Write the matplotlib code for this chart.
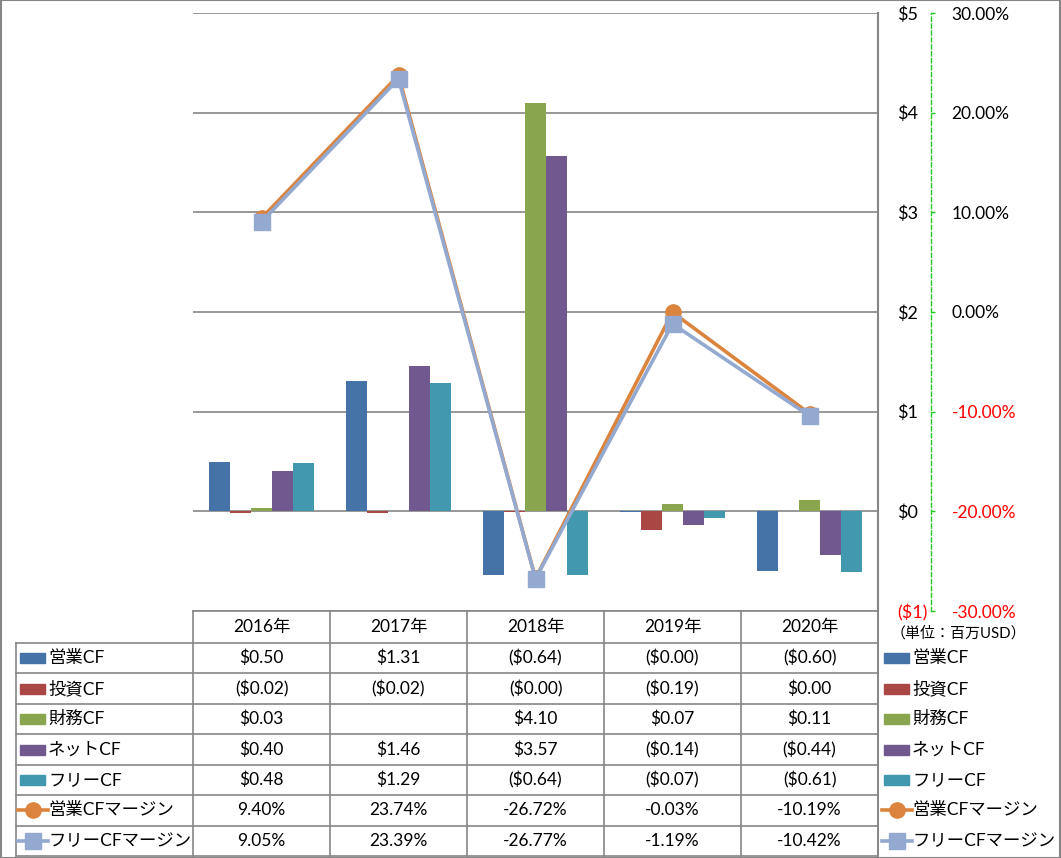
import numpy as np
import matplotlib
matplotlib.use("Agg")
import matplotlib.pyplot as plt
from matplotlib.lines import Line2D
from matplotlib.patches import Rectangle

plt.rcParams['font.family'] = ['Lato', 'Noto Sans CJK JP', 'DejaVu Sans']

# ---------------- data ----------------
years = ["2016年", "2017年", "2018年", "2019年", "2020年"]
bar_names = ["営業CF", "投資CF", "財務CF", "ネットCF", "フリーCF"]
op_cf = [0.50, 1.31, -0.64, -0.004, -0.60]
inv_cf = [-0.02, -0.02, -0.003, -0.19, 0.00]
fin_cf = [0.03, None, 4.10, 0.07, 0.11]
net_cf = [0.40, 1.46, 3.57, -0.14, -0.44]
free_cf = [0.48, 1.29, -0.64, -0.07, -0.61]
line_names = ["営業CFマージン", "フリーCFマージン"]
op_margin = [9.40, 23.74, -26.72, -0.03, -10.19]
free_margin = [9.05, 23.39, -26.77, -1.19, -10.42]
y_ticks = [-1, 0, 1, 2, 3, 4, 5]
pct_ticks = [-30, -20, -10, 0, 10, 20, 30]
unit_label = "（単位：百万USD）"

bar_series = [op_cf, inv_cf, fin_cf, net_cf, free_cf]
bar_colors = ["#4572A7", "#AA4643", "#89A54E", "#71588F", "#4198AF"]
line_series = [op_margin, free_margin]
line_colors = ["#DB843D", "#93A9CF"]
line_markers = ["o", "s"]

W, H = 1061, 858
fig = plt.figure(figsize=(W / 100, H / 100), dpi=100)

def fx(x):
    return x / W

def fy(y):
    return 1 - y / H

GRID = "#868686"
L, R, T, B = 193, 878, 13, 611
ax = fig.add_axes([fx(L), fy(B), fx(R - L), (B - T) / H])
ax2 = ax.twinx()

x = np.arange(len(years))
bw = 21 / 137
for j, (vals, col) in enumerate(zip(bar_series, bar_colors)):
    h = np.array([np.nan if v is None else v for v in vals], dtype=float)
    ax.bar(x + (j - 2) * bw, h, width=bw, color=col, zorder=3)

for vals, col, mk in zip(line_series, line_colors, line_markers):
    ax2.plot(x, vals, color=col, lw=2.6, marker=mk, ms=11, mfc=col, mec=col,
             solid_joinstyle='round', zorder=5)

ax.set_xlim(-0.5, len(years) - 0.5)
ax.set_ylim(-1, 5)
ax2.set_ylim(-30, 30)
ax.set_xticks([])

for s in ["top", "left", "bottom"]:
    ax.spines[s].set_visible(False)
    ax2.spines[s].set_visible(False)
ax.spines["right"].set_color(GRID)
ax.spines["right"].set_linewidth(1.5)
ax2.spines["right"].set_position(("outward", 38))
ax2.spines["right"].set_color("#22CC22")
ax2.spines["right"].set_linestyle((0, (3, 2)))
ax2.spines["right"].set_linewidth(1)

ax.set_yticks(y_ticks)
ax.set_yticklabels([("$%d" % v) if v >= 0 else ("($%d)" % abs(v)) for v in y_ticks])
ax.yaxis.tick_right()
ax.tick_params(axis='y', length=0, pad=14, labelsize=13)
ax.yaxis.grid(True, color=GRID, lw=1.2, zorder=0)
ax.set_axisbelow(True)

ax2.set_yticks(pct_ticks)
ax2.set_yticklabels(["%.2f%%" % v for v in pct_ticks])
ax2.tick_params(axis='y', direction='out', length=3, width=1, color="#22CC22",
                pad=12, labelsize=12.5)

fig.text(fx(891), fy(633), unit_label, fontsize=10.8, ha="left", va="center")

# ---------------- table ----------------
TL = 16
HDR_TOP, HDR_BOT = 611, 643
ROW_H = (856 - 643) / 7
col_w = (R - L) / len(years)
rows_y = [HDR_BOT + i * ROW_H for i in range(8)]

def hline(x0, x1, y):
    fig.add_artist(Line2D([fx(x0), fx(x1)], [fy(y), fy(y)], color=GRID, lw=1.2))

def vline(x, y0, y1):
    fig.add_artist(Line2D([fx(x), fx(x)], [fy(y0), fy(y1)], color=GRID, lw=1.2))

hline(L, R, HDR_TOP)
for yy in rows_y:
    hline(TL, R, yy)
vline(TL, HDR_BOT, rows_y[-1])
for k in range(len(years) + 1):
    vline(L + k * col_w, HDR_TOP, rows_y[-1])
vline(R, HDR_TOP, H)

FS = 12.5
for k, yr in enumerate(years):
    fig.text(fx(L + (k + 0.5) * col_w), fy((HDR_TOP + HDR_BOT) / 2), yr,
             ha="center", va="center", fontsize=FS)

def fmt_money(v):
    if v is None:
        return ""
    if v < 0:
        return "($%.2f)" % abs(v)
    return "$%.2f" % v

all_names = bar_names + line_names
row_texts = [[fmt_money(v) for v in s] for s in bar_series] + \
            [["%.2f%%" % v for v in s] for s in line_series]
all_colors = bar_colors + line_colors

def legend_key(x0, yc, i):
    col = all_colors[i]
    if i < len(bar_names):
        fig.add_artist(Rectangle((fx(x0), fy(yc + 5)), fx(25), 10 / H,
                                 color=col, transform=fig.transFigure))
    else:
        j = i - len(bar_names)
        fig.add_artist(Line2D([fx(x0 - 2), fx(x0 + 28)], [fy(yc), fy(yc)],
                              color=col, lw=2.6))
        fig.add_artist(Line2D([fx(x0 + 13)], [fy(yc)], color=col,
                              marker=line_markers[j], ms=11, mfc=col, mec=col, lw=0))

for i, name in enumerate(all_names):
    yc = (rows_y[i] + rows_y[i + 1]) / 2
    legend_key(20, yc, i)
    fig.text(fx(48), fy(yc), name, ha="left", va="center", fontsize=FS)
    legend_key(884, yc, i)
    fig.text(fx(912), fy(yc), name, ha="left", va="center", fontsize=FS)
    for k, t in enumerate(row_texts[i]):
        fig.text(fx(L + (k + 0.5) * col_w), fy(yc), t, ha="center", va="center",
                 fontsize=FS)

# outer border
fig.add_artist(Rectangle((0.0005, 0.0005), 0.999, 0.999, fill=False, ec=GRID,
                         lw=1.5, transform=fig.transFigure))

# colour negative tick labels red (done last so no tick reset discards it)
for t, v in zip(ax.yaxis.get_major_ticks(), y_ticks):
    t.label2.set_color("red" if v < 0 else "black")
for t, v in zip(ax2.yaxis.get_major_ticks(), pct_ticks):
    t.label2.set_color("red" if v < 0 else "black")

fig.savefig("out.png", dpi=100)
